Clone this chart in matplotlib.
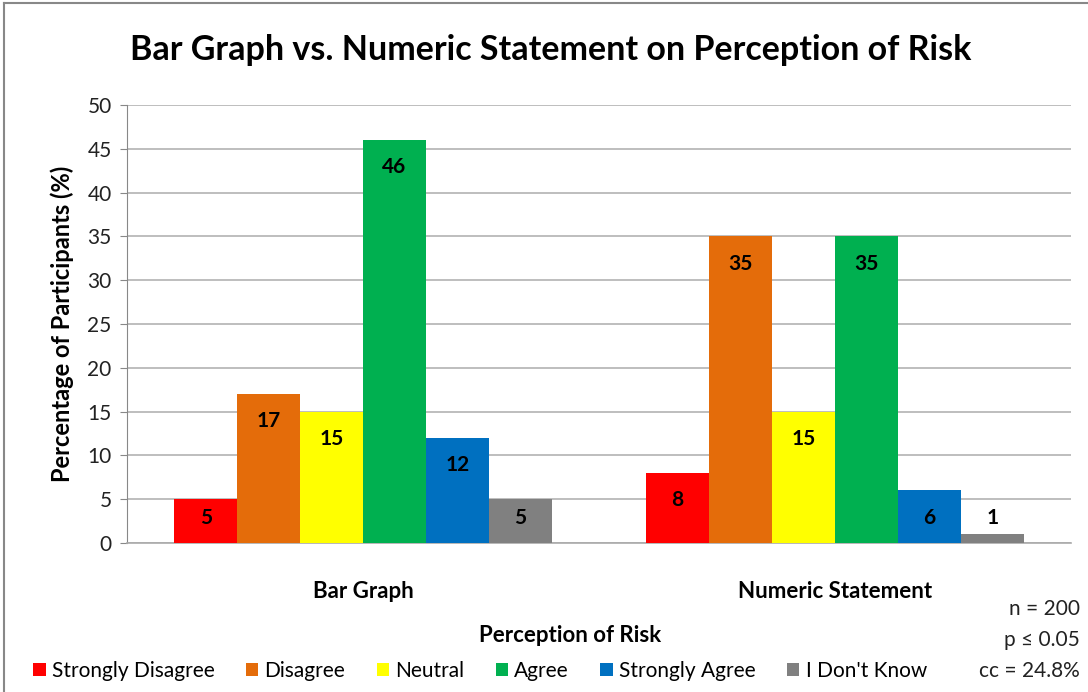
import matplotlib
matplotlib.use("Agg")
import matplotlib.pyplot as plt
from matplotlib.lines import Line2D
from matplotlib.patches import Patch
import numpy as np

plt.rcParams['font.family'] = ['Lato', 'DejaVu Sans']

categories = ["Bar Graph", "Numeric Statement"]
series = ["Strongly Disagree", "Disagree", "Neutral", "Agree", "Strongly Agree", "I Don't Know"]
values = {
    "Strongly Disagree": [5, 8],
    "Disagree": [17, 35],
    "Neutral": [15, 15],
    "Agree": [46, 35],
    "Strongly Agree": [12, 6],
    "I Don't Know": [5, 1],
}
colors = ["#FF0000", "#E46C0A", "#FFFF00", "#00B050", "#0070C0", "#808080"]
yticks = [0, 5, 10, 15, 20, 25, 30, 35, 40, 45, 50]

W, H = 1088, 692
fig = plt.figure(figsize=(W / 100, H / 100), dpi=100)
ax = fig.add_axes([127 / W, 1 - 543 / H, (1071 - 127) / W, (543 - 105) / H])

x = np.arange(len(categories))
bw = 0.8 / len(series)
for i, (s, c) in enumerate(zip(series, colors)):
    offs = (i - (len(series) - 1) / 2) * bw
    vals = values[s]
    ax.bar(x + offs, vals, width=bw, color=c, edgecolor='none', zorder=3)
    for xi, v in zip(x, vals):
        ly = max(v - 3.1, 2.9)
        ax.text(xi + offs, ly, str(v), ha='center', va='center', fontsize=15,
                fontweight='bold', color='black', zorder=4)

ax.set_xlim(-0.5, 1.5)
ax.set_ylim(0, 50)
ax.set_yticks(yticks)
ax.set_yticklabels([str(t) for t in yticks], fontsize=15, color='#222222')
ax.yaxis.grid(True, color='#b3b3b3', linewidth=1.2, zorder=0)
ax.set_axisbelow(True)
ax.set_xticks(x)
ax.set_xticklabels(categories, fontsize=16, fontweight='bold')
ax.tick_params(axis='x', length=0, pad=27)
ax.tick_params(axis='y', length=5, color='#888888', direction='out', pad=6)
for sp in ['top', 'right']:
    ax.spines[sp].set_visible(False)
ax.spines['left'].set_color('#888888')
ax.spines['bottom'].set_color('#aaaaaa')
ax.spines['bottom'].set_linewidth(1.2)

ax.set_ylabel("Percentage of Participants (%)", fontsize=17, fontweight='bold', labelpad=10)

fig.text(551 / W, 1 - 50 / H, "Bar Graph vs. Numeric Statement on Perception of Risk",
         ha='center', va='center', fontsize=24.5, fontweight='bold')
fig.text(570 / W, 1 - 636 / H, "Perception of Risk", ha='center', va='center',
         fontsize=16, fontweight='bold')

for txt, yy in [("n = 200", 609), ("p \u2264 0.05", 640), ("cc = 24.8%", 671)]:
    fig.text(1080 / W, 1 - yy / H, txt, ha='right', va='center', fontsize=15, color='#222222')

handles = [Patch(facecolor=c, edgecolor='none', label=s) for s, c in zip(series, colors)]
fig.legend(handles=handles, loc='center left', bbox_to_anchor=(33 / W, 1 - 671 / H),
           ncol=6, frameon=False, fontsize=15, handlelength=0.6, handleheight=0.6,
           handletextpad=0.3, columnspacing=1.5, borderaxespad=0, borderpad=0)

fig.add_artist(Line2D([4 / W, 4 / W], [0, 1 - 3 / H], transform=fig.transFigure, color='#888888', lw=1.5))
fig.add_artist(Line2D([4 / W, 1], [1 - 3 / H, 1 - 3 / H], transform=fig.transFigure, color='#888888', lw=1.5))

fig.savefig("out.png", dpi=100)
